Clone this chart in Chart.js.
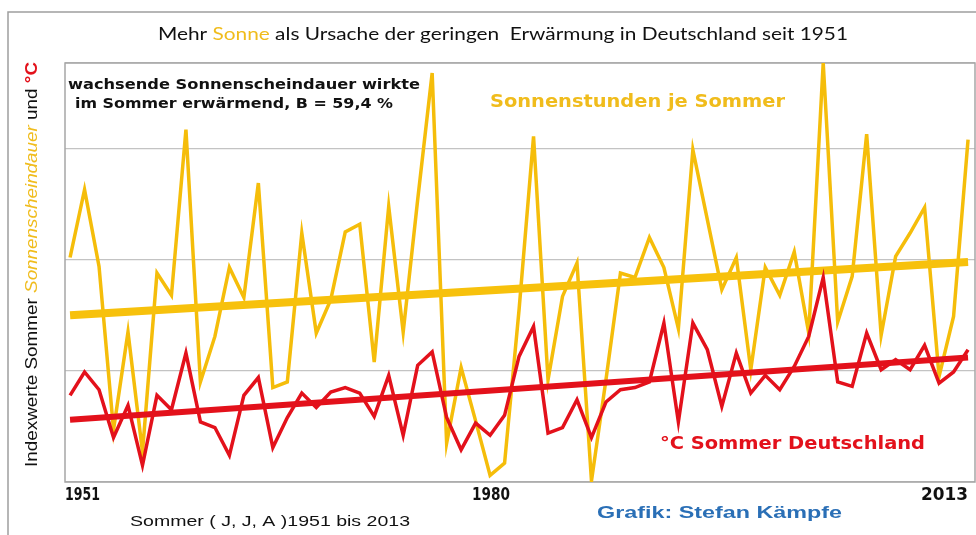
<!DOCTYPE html>
<html>
<head>
<meta charset="utf-8">
<script src="https://cdn.jsdelivr.net/npm/chart.js@4.4.0/dist/chart.umd.min.js"></script>
<style>
  html, body { margin: 0; padding: 0; background: #fff; }
  #wrap { width: 976px; height: 535px; }
</style>
</head>
<body>
<div id="wrap"><canvas id="chart" width="976" height="535"></canvas></div>
<script>
// Jahre (Sommer 1951 - 2013)
const years = [1951, 1952, 1953, 1954, 1955, 1956, 1957, 1958, 1959, 1960,
  1961, 1962, 1963, 1964, 1965, 1966, 1967, 1968, 1969, 1970,
  1971, 1972, 1973, 1974, 1975, 1976, 1977, 1978, 1979, 1980,
  1981, 1982, 1983, 1984, 1985, 1986, 1987, 1988, 1989, 1990,
  1991, 1992, 1993, 1994, 1995, 1996, 1997, 1998, 1999, 2000,
  2001, 2002, 2003, 2004, 2005, 2006, 2007, 2008, 2009, 2010,
  2011, 2012, 2013];

// Sonnenstunden je Sommer (Indexwerte)
const sunIndex = [2.02, 2.63, 1.94, 0.47, 1.35, 0.27, 1.88, 1.68, 3.17, 0.90,
  1.31, 1.93, 1.66, 2.69, 0.85, 0.90, 2.24, 1.34, 1.64, 2.25,
  2.32, 1.08, 2.48, 1.35, 2.54, 3.68, 0.35, 1.03, 0.55, 0.06,
  0.17, 1.55, 3.11, 0.92, 1.67, 1.97, 0.01, 0.92, 1.88, 1.84,
  2.20, 1.93, 1.38, 2.99, 2.36, 1.73, 2.02, 1.01, 1.93, 1.68,
  2.07, 1.34, 3.77, 1.44, 1.85, 3.13, 1.32, 2.03, 2.24, 2.47,
  0.95, 1.49, 3.08];

// °C Sommer Deutschland (Indexwerte)
const tempIndex = [0.78, 0.99, 0.83, 0.40, 0.69, 0.15, 0.78, 0.65, 1.16, 0.54,
  0.49, 0.24, 0.78, 0.94, 0.31, 0.58, 0.80, 0.67, 0.81, 0.85,
  0.80, 0.59, 0.96, 0.42, 1.05, 1.17, 0.58, 0.29, 0.53, 0.42,
  0.60, 1.13, 1.40, 0.44, 0.49, 0.74, 0.40, 0.72, 0.83, 0.85,
  0.90, 1.43, 0.54, 1.43, 1.19, 0.68, 1.16, 0.80, 0.96, 0.83,
  1.04, 1.31, 1.84, 0.90, 0.86, 1.34, 1.01, 1.10, 1.01, 1.23,
  0.89, 0.99, 1.19];

// lineare Trends (Anfang / Ende)
const trendYears = [1951, 2013];
const sunTrend = [1.50, 1.98];
const tempTrend = [0.56, 1.12];

// Beschriftung der x-Achse
const xTickLabels = ['1951', '1980', '2013'];

const YELLOW = '#F5BD0A';
const YELLOW_TEXT = '#F0BC1C';
const RED = '#E3111B';
const BLUE = '#2A6FB6';

function toPoints(xs, ys) {
    return xs.map((x, i) => ({ x: x, y: ys[i] }));
}

// Text in mehreren Farben auf eine feste Breite bringen
function drawRuns(ctx, runs, x, y, width, angle) {
    let total = 0;
    runs.forEach(r => {
        ctx.font = r.font;
        total += ctx.measureText(r.t).width;
    });
    ctx.save();
    ctx.translate(x, y);
    if (angle) ctx.rotate(angle);
    ctx.scale(width / total, 1);
    ctx.textBaseline = 'middle';
    ctx.textAlign = 'left';
    let pos = 0;
    runs.forEach(r => {
        ctx.font = r.font;
        ctx.fillStyle = r.color;
        ctx.fillText(r.t, pos, 0);
        pos += ctx.measureText(r.t).width;
    });
    ctx.restore();
}

const framePlugin = {
    id: 'frame',
    beforeDraw(chart) {
        const ctx = chart.ctx;
        ctx.save();
        ctx.strokeStyle = '#9E9E9E';
        ctx.lineWidth = 1.5;
        ctx.strokeRect(8, 12, 980, 540);
        ctx.restore();
    },
    beforeDatasetsDraw(chart) {
        const a = chart.chartArea;
        const ctx = chart.ctx;
        ctx.save();
        ctx.strokeStyle = '#A6A6A6';
        ctx.lineWidth = 1.5;
        ctx.strokeRect(a.left, a.top, a.right - a.left, a.bottom - a.top);
        ctx.restore();
    }
};

const textPlugin = {
    id: 'texts',
    afterDraw(chart) {
        const ctx = chart.ctx;
        const sans = '"Liberation Sans", Arial, sans-serif';
        const title = '17px Lato, sans-serif';

        drawRuns(ctx, [
            { t: 'Mehr ', color: '#111', font: title },
            { t: 'Sonne', color: YELLOW_TEXT, font: title },
            { t: ' als Ursache der geringen  Erwärmung in Deutschland seit 1951', color: '#111', font: title }
        ], 158, 35, 690);

        const yFont = '16px ' + sans;
        drawRuns(ctx, [
            { t: 'Indexwerte Sommer ', color: '#111', font: yFont },
            { t: 'Sonnenscheindauer', color: YELLOW_TEXT, font: 'italic ' + yFont },
            { t: ' und ', color: '#111', font: yFont },
            { t: '°C', color: RED, font: 'bold ' + yFont }
        ], 33, 467, 405, -Math.PI / 2);

        const note = 'bold 14px "DejaVu Sans", sans-serif';
        drawRuns(ctx, [{ t: 'wachsende Sonnenscheindauer wirkte', color: '#111', font: note }], 68, 85, 352);
        drawRuns(ctx, [{ t: 'im Sommer erwärmend, B = 59,4 %', color: '#111', font: note }], 75, 104, 318);

        const big = 'bold 17px "DejaVu Sans", sans-serif';
        drawRuns(ctx, [{ t: 'Sonnenstunden je Sommer', color: YELLOW_TEXT, font: big }], 490, 103, 295);
        drawRuns(ctx, [{ t: '°C Sommer Deutschland', color: RED, font: big }], 660, 445, 265);
        drawRuns(ctx, [{ t: 'Grafik: Stefan Kämpfe', color: BLUE, font: 'bold 17px ' + sans }], 597, 513, 245);

        drawRuns(ctx, [{ t: 'Sommer ( J, J, A )1951 bis 2013', color: '#111', font: '15px ' + sans }], 130, 522, 280);

        // Jahreszahlen unter der Achse
        const tickPos = [[65, 35], [472, 38], [921, 47]];
        xTickLabels.forEach((lbl, i) => {
            drawRuns(ctx, [{ t: lbl, color: '#111', font: 'bold 17px "DejaVu Sans", sans-serif' }], tickPos[i][0], 496, tickPos[i][1]);
        });
    }
};

function buildChart() {
    new Chart(document.getElementById('chart'), {
        type: 'line',
        data: {
            datasets: [
                {
                    label: 'Trend °C',
                    data: toPoints(trendYears, tempTrend),
                    borderColor: RED,
                    borderWidth: 6,
                    pointRadius: 0,
                    order: 0
                },
                {
                    label: '°C Sommer Deutschland',
                    data: toPoints(years, tempIndex),
                    borderColor: RED,
                    borderWidth: 3.5,
                    pointRadius: 0,
                    tension: 0,
                    order: 1
                },
                {
                    label: 'Trend Sonne',
                    data: toPoints(trendYears, sunTrend),
                    borderColor: '#F7C10C',
                    borderWidth: 8,
                    pointRadius: 0,
                    order: 2
                },
                {
                    label: 'Sonnenstunden je Sommer',
                    data: toPoints(years, sunIndex),
                    borderColor: YELLOW,
                    borderWidth: 3.5,
                    pointRadius: 0,
                    tension: 0,
                    order: 3
                }
            ]
        },
        options: {
            responsive: false,
            animation: false,
            layout: { padding: { left: 65, right: 1, top: 63, bottom: 53 } },
            plugins: {
                legend: { display: false },
                tooltip: { enabled: false }
            },
            scales: {
                x: {
                    type: 'linear',
                    display: false,
                    min: 1950.65,
                    max: 2013.48
                },
                y: {
                    min: 0,
                    max: 3.77,
                    ticks: { display: false, stepSize: 1 },
                    grid: { color: '#C3C3C3', lineWidth: 1.3, drawTicks: false },
                    border: { display: false }
                }
            }
        },
        plugins: [framePlugin, textPlugin]
    });
}

// Schriften erst laden, dann zeichnen
Promise.all([
    document.fonts.load('17px Lato'),
    document.fonts.load('bold 17px "DejaVu Sans"'),
    document.fonts.load('16px "Liberation Sans"'),
    document.fonts.load('italic 16px "Liberation Sans"')
]).catch(() => {}).then(buildChart);
</script>
</body>
</html>
